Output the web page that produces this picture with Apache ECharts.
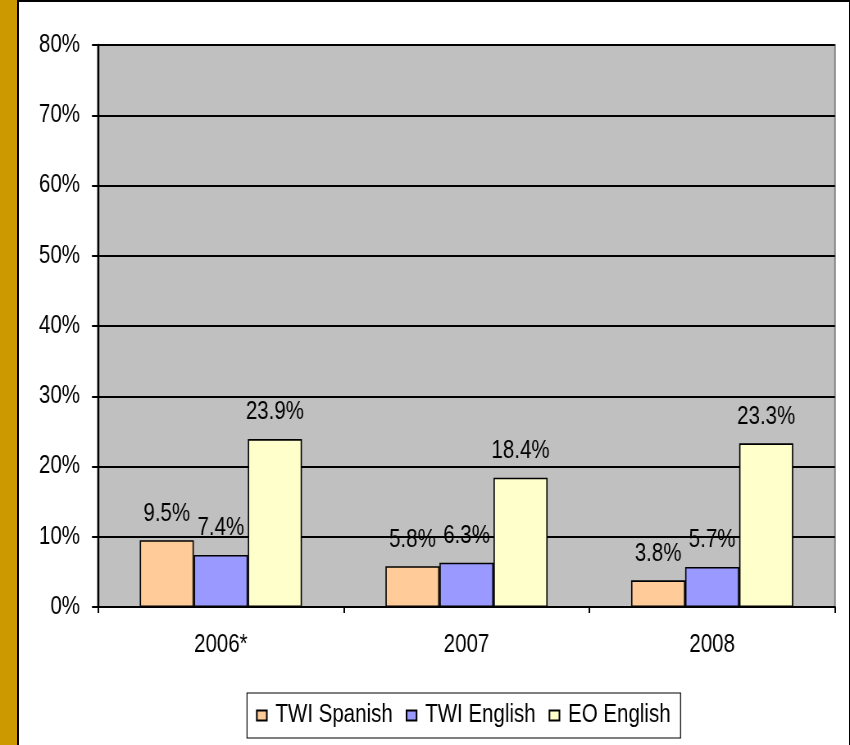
<!DOCTYPE html>
<html>
<head>
<meta charset="utf-8">
<style>
  html, body { margin: 0; padding: 0; background: #fff; overflow: hidden; }
  #page { position: relative; width: 850px; height: 745px; background: #fff; overflow: hidden; }
  /* gold side strip and black frame */
  #strip { position: absolute; left: 0; top: 0; width: 17px; height: 745px; background: #CC9900; z-index: 2; }
  #frame { position: absolute; left: 17px; top: 0; width: 830px; height: 760px;
           border-left: 2px solid #000; border-top: 2px solid #000; border-right: 2px solid #000;
           box-sizing: content-box; z-index: 2; pointer-events: none; }
  /* chart drawn wider, then condensed horizontally */
  #chart { position: absolute; left: 0; top: 0; width: 1037px; height: 745px;
           transform-origin: 0 0; transform: scaleX(0.81967); }
</style>
<script src="https://cdn.jsdelivr.net/npm/echarts@6/dist/echarts.min.js"></script>
</head>
<body>
<div id="page">
  <div id="chart"></div>
  <div id="strip"></div>
  <div id="frame"></div>
</div>
<script>
// Years on the category axis
const years = ['2006*', '2007', '2008'];
// Percentages per group
const twiSpanish = [9.5, 5.8, 3.8];
const twiEnglish = [7.4, 6.3, 5.7];
const eoEnglish = [23.9, 18.4, 23.3];
// Value axis range (percent)
const yMin = 0, yMax = 80, yStep = 10;

const FONT = '"Liberation Sans", Arial, sans-serif';
const FS = 25;
const SX = 0.81967; // horizontal condensing applied to the canvas

const labelStyle = {
  show: true,
  position: 'top',
  distance: 14,
  formatter: '{c}%',
  color: '#000',
  fontSize: FS,
  fontFamily: FONT
};

function barSeries(name, data, color) {
  return {
    name: name,
    type: 'bar',
    data: data,
    barGap: '0%',
    barCategoryGap: '34%',
    itemStyle: { color: color, borderColor: '#000', borderWidth: 1.6 },
    label: labelStyle
  };
}

const chart = echarts.init(document.getElementById('chart'), null, { renderer: 'canvas' });
chart.setOption({
  backgroundColor: '#fff',
  animation: false,
  grid: {
    left: 98 / SX, right: 15 / SX, top: 45, bottom: 138,
    show: true,
    backgroundColor: '#C0C0C0',
    borderColor: '#808080',
    borderWidth: 2
  },
  legend: {
    left: 247 / SX, top: 693,
    padding: [10, 10 / SX, 10, 9 / SX],
    borderColor: '#000',
    borderWidth: 1.2,
    itemWidth: 10 / SX, itemHeight: 10, itemGap: 13 / SX,
    icon: 'rect',
    textStyle: { fontSize: FS, fontFamily: FONT, color: '#000', padding: [0, 0, 0, 5.5] },
    data: ['TWI Spanish', 'TWI English', 'EO English']
  },
  xAxis: {
    type: 'category',
    data: years,
    axisLine: { lineStyle: { color: '#000', width: 2 } },
    axisTick: { show: true, length: 6, lineStyle: { color: '#000', width: 2 } },
    axisLabel: { color: '#000', fontSize: FS, fontFamily: FONT, margin: 26 }
  },
  yAxis: {
    type: 'value',
    min: yMin, max: yMax, interval: yStep,
    axisLine: { show: true, lineStyle: { color: '#000', width: 2.4 } },
    axisTick: { show: true, length: 6 / SX, lineStyle: { color: '#000', width: 2 } },
    axisLabel: { color: '#000', fontSize: FS, fontFamily: FONT, margin: 18 / SX, formatter: '{value}%' },
    splitLine: { lineStyle: { color: '#000', width: 2 } }
  },
  series: [
    barSeries('TWI Spanish', twiSpanish, '#FFCC99'),
    barSeries('TWI English', twiEnglish, '#9999FF'),
    barSeries('EO English', eoEnglish, '#FFFFCC')
  ]
});
</script>
</body>
</html>
